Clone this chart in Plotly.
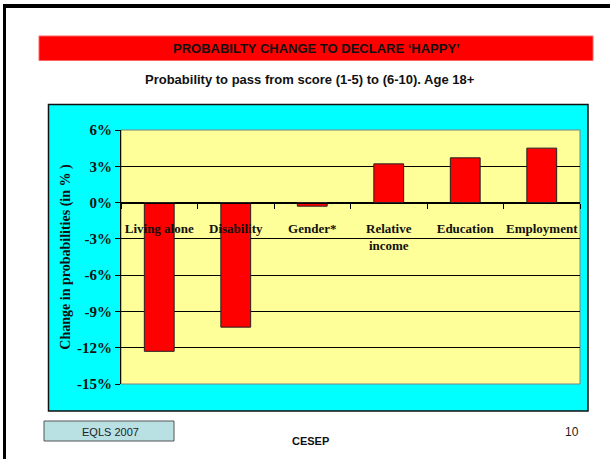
import plotly.graph_objects as go

categories = ["Living alone", "Disability", "Gender*", "Relative<br>income", "Education", "Employment"]
values = [-12.3, -10.3, -0.3, 3.2, 3.7, 4.5]
y_ticks = [6, 3, 0, -3, -6, -9, -12, -15]

W, H = 610, 459
L, R, T, B = 121, 30, 130, 75
PW, PH = W - L - R, H - T - B
Y_RANGE = [-15, 6]


def px(x):
    return (x - L) / PW


def py(y):
    return (H - B - y) / PH


serif = "Liberation Serif, Times New Roman, serif"
sans = "Liberation Sans, Arial, sans-serif"

fig = go.Figure()
fig.add_trace(go.Bar(
    x=categories, y=values,
    marker=dict(color="#ff0000", line=dict(color="#222222", width=1)),
    width=0.39,
))

shapes = [
    # slide frame (top + left)
    dict(type="rect", xref="paper", yref="paper", x0=px(3), x1=px(610), y0=py(4), y1=py(8),
         fillcolor="black", line=dict(width=0), layer="above"),
    dict(type="rect", xref="paper", yref="paper", x0=px(3), x1=px(6), y0=py(4), y1=py(459),
         fillcolor="black", line=dict(width=0)),
    # red banner
    dict(type="rect", xref="paper", yref="paper", x0=px(39), x1=px(593), y0=py(36), y1=py(60.5),
         fillcolor="#ff0000", line=dict(color="#ff6060", width=1), layer="below"),
    # cyan box
    dict(type="rect", xref="paper", yref="paper", x0=px(48.5), x1=px(588), y0=py(104.5), y1=py(411),
         fillcolor="#00ffff", line=dict(color="#111111", width=1.5), layer="below"),
    # plot area
    dict(type="rect", xref="paper", yref="paper", x0=0, x1=1, y0=0, y1=1,
         fillcolor="#ffff99", line=dict(color="#808080", width=1), layer="below"),
    # footer box
    dict(type="rect", xref="paper", yref="paper", x0=px(44), x1=px(174), y0=py(421), y1=py(441),
         fillcolor="#b9e0e3", line=dict(color="#555555", width=1), layer="below"),
]

annotations = [
    dict(text="<b>PROBABILTY CHANGE TO DECLARE ‘HAPPY’</b>", x=px(316), y=py(48.5),
         font=dict(family=sans, size=13, color="#111111")),
    dict(text="<b>Probability to pass from score (1-5) to (6-10). Age 18+</b>", x=px(310), y=py(80),
         font=dict(family=sans, size=13, color="#111111")),
    dict(text="EQLS 2007", x=px(110), y=py(431.5), font=dict(family=sans, size=11, color="#222222")),
    dict(text="<b>CESEP</b>", x=px(310), y=py(440.5), font=dict(family=sans, size=11, color="#111111")),
    dict(text="10", x=px(572), y=py(432), font=dict(family=sans, size=12, color="#222222")),
]
for a in annotations:
    a.update(xref="paper", yref="paper", showarrow=False, xanchor="center", yanchor="middle")

zero_pos = (0 - Y_RANGE[0]) / (Y_RANGE[1] - Y_RANGE[0])

fig.update_layout(
    width=W, height=H,
    margin=dict(l=L, r=R, t=T, b=B),
    paper_bgcolor="white",
    plot_bgcolor="rgba(0,0,0,0)",
    showlegend=False,
    shapes=shapes,
    annotations=annotations,
    xaxis=dict(
        anchor="free", position=zero_pos,
        showline=True, linecolor="black", linewidth=1,
        ticks="outside", tickson="boundaries", ticklen=5, tickcolor="black",
        showgrid=False, tickangle=0,
        tickfont=dict(family=serif, size=13, color="#111111"),
        tickprefix="<b>", ticksuffix="</b>",
        ticklabelstandoff=14,
    ),
    yaxis=dict(
        range=Y_RANGE, tickvals=y_ticks,
        ticktext=[f"<b>{v}%</b>" for v in y_ticks],
        showline=True, linecolor="black", linewidth=1,
        ticks="outside", ticklen=5, tickcolor="black",
        showgrid=True, gridcolor="black", gridwidth=1,
        zeroline=False,
        tickfont=dict(family=serif, size=15, color="#111111"),
        title=dict(text="<b>Change in probabilities (in % )</b>",
                   font=dict(family=serif, size=14, color="#111111"), standoff=3),
    ),
    bargap=0.6,
)

fig.write_html("out.html", config={"displayModeBar": False},
               post_script="document.body.style.margin='0px';")
